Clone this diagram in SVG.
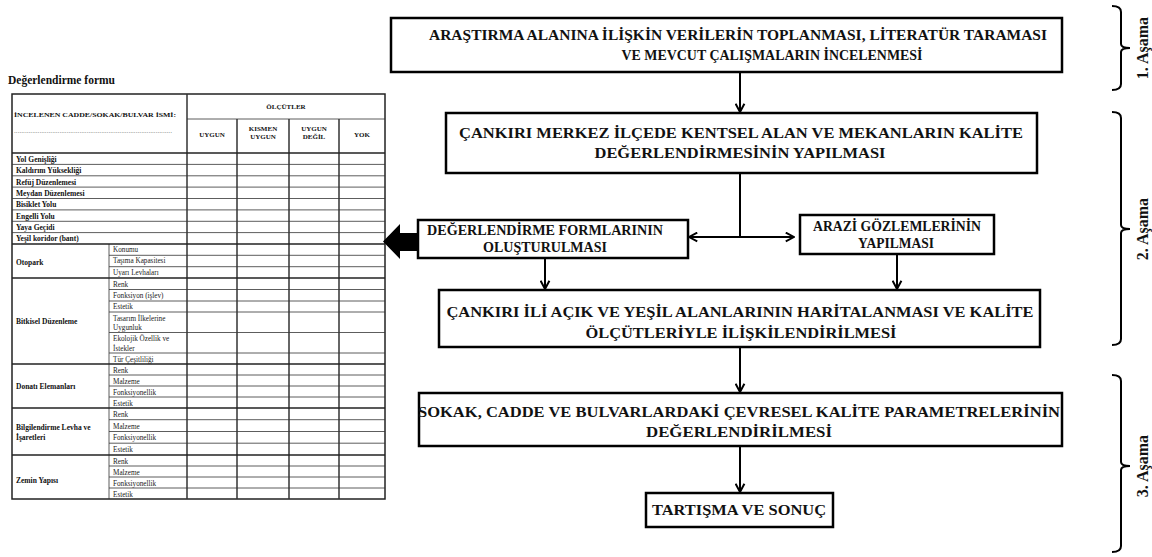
<svg xmlns="http://www.w3.org/2000/svg" width="1152" height="557" viewBox="0 0 1152 557">
<style>
.bx{fill:#fff;stroke:#000;stroke-width:2.5}
.bt{font-family:'Liberation Serif','Times New Roman',serif;font-weight:bold;font-size:15px;fill:#111;text-anchor:middle}
.bs{font-size:14px}
.cn{stroke:#000;stroke-width:2;fill:none}
.tg{stroke:#333;stroke-width:0.8}
.tgc{stroke:#333;stroke-width:1.5}
.tgb{stroke:#222;stroke-width:1.5}
.tl{font-family:'Liberation Serif','Times New Roman',serif;font-weight:bold;font-size:7.5px;fill:#111}
.ts{font-family:'Liberation Serif','Times New Roman',serif;font-size:7.2px;fill:#222}
.th{font-family:'Liberation Serif','Times New Roman',serif;font-weight:bold;font-size:7px;fill:#111;text-anchor:middle}
.br{stroke:#000;stroke-width:2;fill:none}
.st{font-family:'Liberation Serif','Times New Roman',serif;font-weight:bold;font-size:16px;fill:#111;text-anchor:middle}
</style>
<defs>
<marker id="ah" viewBox="0 0 10 10" refX="9" refY="5" markerWidth="11" markerHeight="11" markerUnits="userSpaceOnUse" orient="auto-start-reverse">
<path d="M1.5,1 L9,5 L1.5,9" fill="none" stroke="#000" stroke-width="1.8"/>
</marker>
</defs>

<g id="form-table">
<text x="8" y="84" style="font-family:'Liberation Serif',serif;font-weight:bold;font-size:11.5px;fill:#111">Değerlendirme formu</text>
<rect x="12" y="94" width="373" height="405" fill="#fff" stroke="#222" stroke-width="1.5"/>
<line class="tgc" x1="187" y1="94" x2="187" y2="499"/>
<line class="tgc" x1="237" y1="119" x2="237" y2="499"/>
<line class="tgc" x1="289" y1="119" x2="289" y2="499"/>
<line class="tgc" x1="339" y1="119" x2="339" y2="499"/>
<line class="tg" x1="109" y1="244" x2="109" y2="499"/>
<line class="tg" x1="187" y1="119" x2="385" y2="119"/>
<line class="tgb" x1="12" y1="153" x2="385" y2="153"/>
<g class="tg">
<line x1="12" y1="164.4" x2="385" y2="164.4"/>
<line x1="12" y1="175.8" x2="385" y2="175.8"/>
<line x1="12" y1="187.1" x2="385" y2="187.1"/>
<line x1="12" y1="198.5" x2="385" y2="198.5"/>
<line x1="12" y1="209.9" x2="385" y2="209.9"/>
<line x1="12" y1="221.3" x2="385" y2="221.3"/>
<line x1="12" y1="232.6" x2="385" y2="232.6"/>
<line x1="109" y1="255.3" x2="385" y2="255.3"/>
<line x1="109" y1="266.7" x2="385" y2="266.7"/>
<line x1="109" y1="289.5" x2="385" y2="289.5"/>
<line x1="109" y1="301" x2="385" y2="301"/>
<line x1="109" y1="312" x2="385" y2="312"/>
<line x1="109" y1="332.5" x2="385" y2="332.5"/>
<line x1="109" y1="353" x2="385" y2="353"/>
<line x1="109" y1="375" x2="385" y2="375"/>
<line x1="109" y1="386" x2="385" y2="386"/>
<line x1="109" y1="397" x2="385" y2="397"/>
<line x1="109" y1="419.7" x2="385" y2="419.7"/>
<line x1="109" y1="431.5" x2="385" y2="431.5"/>
<line x1="109" y1="443.2" x2="385" y2="443.2"/>
<line x1="109" y1="466" x2="385" y2="466"/>
<line x1="109" y1="477" x2="385" y2="477"/>
<line x1="109" y1="488" x2="385" y2="488"/>
</g>
<g class="tgb">
<line x1="12" y1="244" x2="385" y2="244"/>
<line x1="12" y1="278" x2="385" y2="278"/>
<line x1="12" y1="364" x2="385" y2="364"/>
<line x1="12" y1="408" x2="385" y2="408"/>
<line x1="12" y1="455" x2="385" y2="455"/>
</g>
<text class="tl" x="14" y="117" style="font-size:7px" textLength="162" lengthAdjust="spacingAndGlyphs">İNCELENEN CADDE/SOKAK/BULVAR İSMİ:</text>
<text class="ts" x="14" y="133" textLength="158" lengthAdjust="spacingAndGlyphs" style="fill:#777">.......................................................................................</text>
<text class="th" x="286" y="109">ÖLÇÜTLER</text>
<text class="th" x="212" y="137">UYGUN</text>
<text class="th" x="263" y="131">KISMEN</text>
<text class="th" x="263" y="139">UYGUN</text>
<text class="th" x="314" y="131">UYGUN</text>
<text class="th" x="314" y="139">DEĞİL</text>
<text class="th" x="362" y="137">YOK</text>
<text class="tl" x="16" y="161.8">Yol Genişliği</text>
<text class="tl" x="16" y="173.2">Kaldırım Yüksekliği</text>
<text class="tl" x="16" y="184.6">Refüj Düzenlemesi</text>
<text class="tl" x="16" y="195.9">Meydan Düzenlemesi</text>
<text class="tl" x="16" y="207.3">Bisiklet Yolu</text>
<text class="tl" x="16" y="218.7">Engelli Yolu</text>
<text class="tl" x="16" y="230.1">Yaya Geçidi</text>
<text class="tl" x="16" y="241.4">Yeşil koridor (bant)</text>
<text class="tl" x="16" y="265">Otopark</text>
<text class="tl" x="16" y="324">Bitkisel Düzenleme</text>
<text class="tl" x="16" y="389">Donatı Elemanları</text>
<text class="tl" x="16" y="430">Bilgilendirme Levha ve</text>
<text class="tl" x="16" y="440">İşaretleri</text>
<text class="tl" x="16" y="483">Zemin Yapısı</text>
<text class="ts" x="113" y="252">Konumu</text>
<text class="ts" x="113" y="263.3">Taşıma Kapasitesi</text>
<text class="ts" x="113" y="274.7">Uyarı Levhaları</text>
<text class="ts" x="113" y="286.5">Renk</text>
<text class="ts" x="113" y="298">Fonksiyon (işlev)</text>
<text class="ts" x="113" y="309">Estetik</text>
<text class="ts" x="113" y="320.5">Tasarım İlkelerine</text>
<text class="ts" x="113" y="330">Uygunluk</text>
<text class="ts" x="113" y="341">Ekolojik Özellik ve</text>
<text class="ts" x="113" y="350.5">İstekler</text>
<text class="ts" x="113" y="361.5">Tür Çeşitliliği</text>
<text class="ts" x="113" y="372.5">Renk</text>
<text class="ts" x="113" y="383.5">Malzeme</text>
<text class="ts" x="113" y="394.5">Fonksiyonellik</text>
<text class="ts" x="113" y="405.5">Estetik</text>
<text class="ts" x="113" y="416.5">Renk</text>
<text class="ts" x="113" y="428.5">Malzeme</text>
<text class="ts" x="113" y="440">Fonksiyonellik</text>
<text class="ts" x="113" y="452">Estetik</text>
<text class="ts" x="113" y="463.5">Renk</text>
<text class="ts" x="113" y="474.5">Malzeme</text>
<text class="ts" x="113" y="485.5">Fonksiyonellik</text>
<text class="ts" x="113" y="496.5">Estetik</text>
</g>

<g id="connectors">
<line class="cn" x1="740" y1="72" x2="740" y2="112" marker-end="url(#ah)"/>
<line class="cn" x1="740" y1="173" x2="740" y2="237"/>
<line class="cn" x1="689" y1="237" x2="794" y2="237" marker-start="url(#ah)" marker-end="url(#ah)"/>
<line class="cn" x1="545" y1="258" x2="545" y2="289" marker-end="url(#ah)"/>
<line class="cn" x1="897" y1="254" x2="897" y2="289" marker-end="url(#ah)"/>
<line class="cn" x1="740" y1="347" x2="740" y2="392" marker-end="url(#ah)"/>
<line class="cn" x1="740" y1="446" x2="740" y2="492" marker-end="url(#ah)"/>
<polygon points="383,241.5 400,224 400,233 418,233 418,251 400,251 400,259" fill="#000"/>
</g>

<g id="n1">
<rect class="bx" x="391" y="18" width="671" height="54"/>
<text class="bt" x="738" y="40" textLength="618" lengthAdjust="spacingAndGlyphs">ARAŞTIRMA ALANINA İLİŞKİN VERİLERİN TOPLANMASI, LİTERATÜR TARAMASI</text>
<text class="bt" x="772" y="60" textLength="301" lengthAdjust="spacingAndGlyphs">VE MEVCUT ÇALIŞMALARIN İNCELENMESİ</text>
</g>
<g id="n2">
<rect class="bx" x="446" y="113" width="591" height="60"/>
<text class="bt" x="741" y="138" textLength="564" lengthAdjust="spacingAndGlyphs">ÇANKIRI MERKEZ İLÇEDE KENTSEL ALAN VE MEKANLARIN KALİTE</text>
<text class="bt" x="740" y="158" textLength="291" lengthAdjust="spacingAndGlyphs">DEĞERLENDİRMESİNİN YAPILMASI</text>
</g>
<g id="n3">
<rect class="bx" x="418" y="220" width="270" height="38"/>
<text class="bt bs" x="545" y="235" textLength="236" lengthAdjust="spacingAndGlyphs">DEĞERLENDİRME FORMLARININ</text>
<text class="bt bs" x="545" y="252" textLength="124" lengthAdjust="spacingAndGlyphs">OLUŞTURULMASI</text>
</g>
<g id="n4">
<rect class="bx" x="800" y="215" width="194" height="39"/>
<text class="bt bs" x="897" y="231" textLength="168" lengthAdjust="spacingAndGlyphs">ARAZİ GÖZLEMLERİNİN</text>
<text class="bt bs" x="896" y="248" textLength="76" lengthAdjust="spacingAndGlyphs">YAPILMASI</text>
</g>
<g id="n5">
<rect class="bx" x="439" y="290" width="601" height="57"/>
<text class="bt" x="740" y="317" textLength="587" lengthAdjust="spacingAndGlyphs">ÇANKIRI İLİ AÇIK VE YEŞİL ALANLARININ HARİTALANMASI VE KALİTE</text>
<text class="bt" x="741" y="338" textLength="311" lengthAdjust="spacingAndGlyphs">ÖLÇÜTLERİYLE İLİŞKİLENDİRİLMESİ</text>
</g>
<g id="n6">
<rect class="bx" x="419" y="393" width="643" height="53"/>
<text class="bt" x="739" y="417" textLength="642" lengthAdjust="spacingAndGlyphs">SOKAK, CADDE VE BULVARLARDAKİ  ÇEVRESEL KALİTE PARAMETRELERİNİN</text>
<text class="bt" x="739" y="437" textLength="186" lengthAdjust="spacingAndGlyphs">DEĞERLENDİRİLMESİ</text>
</g>
<g id="n7">
<rect class="bx" x="646" y="493" width="187" height="34"/>
<text class="bt bs" x="739" y="515" textLength="174" lengthAdjust="spacingAndGlyphs">TARTIŞMA VE SONUÇ</text>
</g>

<g id="stages">
<path class="br" d="M1112,6 Q1121,6 1121,12 L1121,44 Q1121,48 1130,48 Q1121,48 1121,52 L1121,84 Q1121,90 1112,90"/>
<text class="st" x="1148" y="48" transform="rotate(-90 1148 48)">1. Aşama</text>
<path class="br" d="M1112,112 Q1121,112 1121,118 L1121,225 Q1121,229 1130,229 Q1121,229 1121,233 L1121,339 Q1121,345 1112,345"/>
<text class="st" x="1148" y="229" transform="rotate(-90 1148 229)">2. Aşama</text>
<path class="br" d="M1112,375 Q1121,375 1121,381 L1121,462 Q1121,466 1130,466 Q1121,466 1121,470 L1121,546 Q1121,552 1112,552"/>
<text class="st" x="1148" y="466" transform="rotate(-90 1148 466)">3. Aşama</text>
</g>
</svg>
